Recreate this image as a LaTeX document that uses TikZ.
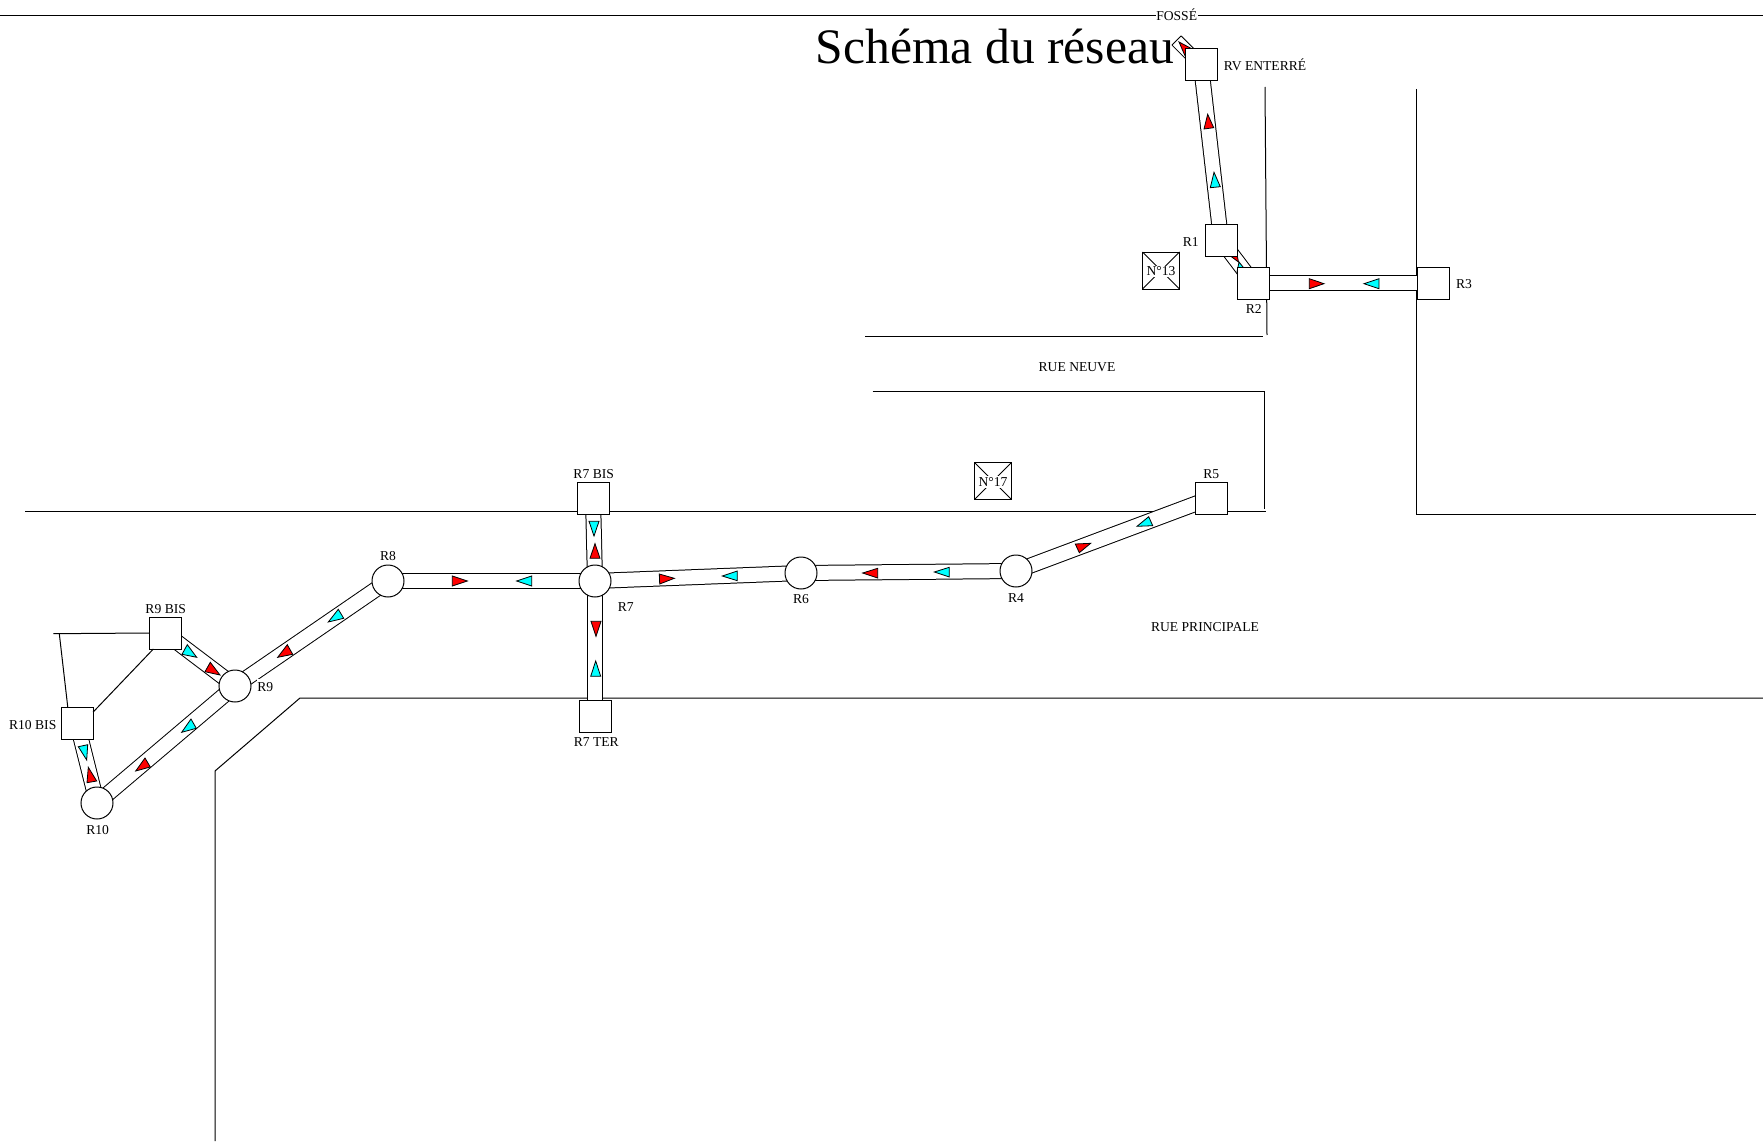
\documentclass[tikz,border=0pt]{standalone}
\usepackage{fontspec}
\setmainfont{Liberation Serif}
\usetikzlibrary{calc}
\definecolor{flowred}{RGB}{255,0,0}
\definecolor{flowcyan}{RGB}{0,255,255}
\pgfdeclarelayer{reseau}
\pgfsetlayers{reseau,main}
\tikzset{
  street/.style={draw=black,line width=0.5pt},
  pipe/.style={draw=black,line width=0.5pt,double=white,double distance=7pt},
  regard/.style={draw=black,fill=white,line width=0.5pt,rectangle,minimum size=16pt,inner sep=0pt,outer sep=0pt},
  rond/.style={draw=black,fill=white,line width=0.5pt,circle,minimum size=16pt,inner sep=0pt,outer sep=0pt},
  maison/.style={draw=black,line width=0.5pt,rectangle,minimum size=18.5pt,inner sep=0pt,outer sep=0pt},
  lbl/.style={font=\fontsize{6.8}{8}\selectfont,inner sep=0pt},
  numero/.style={lbl,fill=white,inner sep=0.6pt},
  redflow/.style={draw=black,fill=flowred,line width=0.4pt,line join=miter},
  cyanflow/.style={draw=black,fill=flowcyan,line width=0.4pt,line join=miter}
}
\begin{document}
\begin{tikzpicture}[x=0.5pt,y=-0.5pt]
\useasboundingbox (0,0) rectangle (1763,1145);
\node [regard] (rv) at (1201,65) {};
\node [regard] (r1) at (1221,240) {};
\node [regard] (r2) at (1253.5,283) {};
\node [regard] (r3) at (1433.5,283) {};
\node [rond] (r4) at (1016,571) {};
\node [regard] (r5) at (1211,498) {};
\node [rond] (r6) at (801,573) {};
\node [rond] (r7) at (595,581) {};
\node [regard] (r7bis) at (593,498) {};
\node [regard] (r7ter) at (595,716) {};
\node [rond] (r8) at (388,581) {};
\node [rond] (r9) at (235,686) {};
\node [regard] (r9bis) at (165,633) {};
\node [regard] (r10bis) at (77,723) {};
\node [rond] (r10) at (97,803) {};
\node [maison] (n13) at (1161,270.5) {};
\node [maison] (n17) at (993,481) {};
\coordinate (stubend) at (1176.5,40.5);
\coordinate (fenceend) at (53.3,633.7);
\coordinate (fencebend) at (59.3,633.7);
\begin{pgfonlayer}{reseau}
\draw [street] (0,15.7) -- (1763,15.7);
\draw [street] (1265,87) -- (1267,335);
\draw [street] (1416.5,89) -- (1416.5,514) -- (1756,514);
\draw [street] (865,336) -- (1263,336);
\draw [street] (872.5,391) -- (1264,391) -- (1264,509);
\draw [street] (25,511.5) -- (1266,511.5);
\draw [street] (215,1141) -- (215,771) -- (300,698) -- (1763,698);
\draw [pipe,double distance=5.9pt] (stubend) -- (rv.center);
\draw [street] ($(stubend)!3.2pt!90:(rv)$) -- ($(stubend)!3.2pt!-90:(rv)$);
\draw [pipe] (rv.center) -- (r1.center);
\draw [pipe] (r1.center) -- (r2.center);
\draw [pipe] (r2.center) -- (r3.center);
\draw [pipe] (r4.center) -- (r5.center);
\draw [pipe] (r6.center) -- (r4.center);
\draw [pipe] (r7.center) -- (r6.center);
\draw [pipe] (r7bis.center) -- (r7.center);
\draw [pipe] (r7.center) -- (r7ter.center);
\draw [pipe] (r8.center) -- (r7.center);
\draw [pipe] (r9.center) -- (r8.center);
\draw [pipe] (r9bis.center) -- (r9.center);
\draw [pipe] (r9.center) -- (r10.center);
\draw [pipe] (r10bis.center) -- (r10.center);
\draw [redflow] (1179,42) -- (1196,51) -- (1186,58) -- cycle;
\draw [redflow] (1207.7,114.3) -- (1204,129) -- (1213.7,127.7) -- cycle;
\draw [cyanflow] (1214,172.3) -- (1210.3,187.7) -- (1220.3,186.7) -- cycle;
\draw [redflow] (1238.5,262) -- (1225,252) -- (1236,249.5) -- cycle;
\draw [cyanflow] (1239,262) -- (1237,272) -- (1247,272) -- cycle;
\draw [redflow] (1309.3,278.7) -- (1324,283.7) -- (1309.3,288.7) -- cycle;
\draw [cyanflow] (1379,278.7) -- (1364,283.7) -- (1379,288.7) -- cycle;
\draw [redflow] (1075.3,544) -- (1090.7,543.3) -- (1079.3,552.7) -- cycle;
\draw [cyanflow] (1137,526.3) -- (1148.7,516.7) -- (1152.7,525.7) -- cycle;
\draw [redflow] (862.7,573) -- (877.7,568.3) -- (877.7,578) -- cycle;
\draw [cyanflow] (934.3,572) -- (949.3,567.3) -- (949.3,577) -- cycle;
\draw [redflow] (674.3,578.3) -- (659.3,574) -- (659.7,584) -- cycle;
\draw [cyanflow] (722.3,576) -- (737.3,571) -- (737.3,580.7) -- cycle;
\draw [cyanflow] (594,536) -- (589,521.3) -- (599,521.3) -- cycle;
\draw [redflow] (595,543.7) -- (590,558.3) -- (600,558.3) -- cycle;
\draw [redflow] (596,636.3) -- (591,621.3) -- (601,621.3) -- cycle;
\draw [cyanflow] (595.7,661) -- (590.7,676.3) -- (600.7,676.3) -- cycle;
\draw [redflow] (452.3,576) -- (452.3,586) -- (467.3,581) -- cycle;
\draw [cyanflow] (531.7,576) -- (531.7,586) -- (516.7,581) -- cycle;
\draw [cyanflow] (328.3,622) -- (338.3,609.3) -- (343.7,618.3) -- cycle;
\draw [redflow] (277.7,657.3) -- (287.3,644.7) -- (292.7,654.3) -- cycle;
\draw [cyanflow] (196.7,657.3) -- (187.3,644.7) -- (182,654.3) -- cycle;
\draw [redflow] (220,675) -- (210.3,662.3) -- (205,671.7) -- cycle;
\draw [cyanflow] (181.7,732.3) -- (191,719) -- (196.3,728.3) -- cycle;
\draw [redflow] (135.7,771) -- (145,758) -- (150.3,767) -- cycle;
\draw [cyanflow] (86.7,760) -- (78.3,746.7) -- (87.7,744.7) -- cycle;
\draw [redflow] (88.3,767.3) -- (87,782.7) -- (96.7,781) -- cycle;
\end{pgfonlayer}
\draw [street] (r9bis.west) -- (fenceend);
\draw [street] (fencebend) -- (r10bis.120);
\draw [street] (r9bis.234) -- (r10bis.34);
\draw [street] (n13.north west) -- (n13.south east);
\draw [street] (n13.north east) -- (n13.south west);
\draw [street] (n17.north west) -- (n17.south east);
\draw [street] (n17.north east) -- (n17.south west);
\node [font=\fontsize{24.8}{28}\selectfont,anchor=base west,inner sep=0pt] (titre) at (815.5,63.3) {Schéma du réseau};
\node [lbl,fill=white,inner xsep=0.3pt] (fosse) at (1176.7,14.7) {FOSSÉ};
\node [lbl] (lblrv) at (1265,64.7) {RV ENTERRÉ};
\node [lbl] (lblr1) at (1190.7,241.7) {R1};
\node [lbl] (lblr2) at (1253.7,309) {R2};
\node [lbl] (lblr3) at (1464,283.7) {R3};
\node [lbl] (lblr4) at (1016,597.7) {R4};
\node [lbl] (lblr5) at (1211.3,474.3) {R5};
\node [lbl] (lblr6) at (801,599) {R6};
\node [lbl] (lblr7) at (625.7,607) {R7};
\node [lbl] (lblr7bis) at (593.7,474.3) {R7 BIS};
\node [lbl] (lblr7ter) at (596.3,742) {R7 TER};
\node [lbl] (lblr8) at (388,556.5) {R8};
\node [lbl,fill=white,inner ysep=1.8pt] (lblr9) at (265.3,686.7) {R9};
\node [lbl] (lblr9bis) at (165.7,608.7) {R9 BIS};
\node [lbl] (lblr10bis) at (32.7,725.3) {R10 BIS};
\node [lbl] (lblr10) at (97.7,830.3) {R10};
\node [lbl] (neuve) at (1077,367.5) {RUE NEUVE};
\node [lbl] (principale) at (1205,627) {RUE PRINCIPALE};
\node [numero] (lbln13) at ($(n13)+(0,1)$) {N°13};
\node [numero] (lbln17) at ($(n17)+(0,1)$) {N°17};
\end{tikzpicture}
\end{document}
